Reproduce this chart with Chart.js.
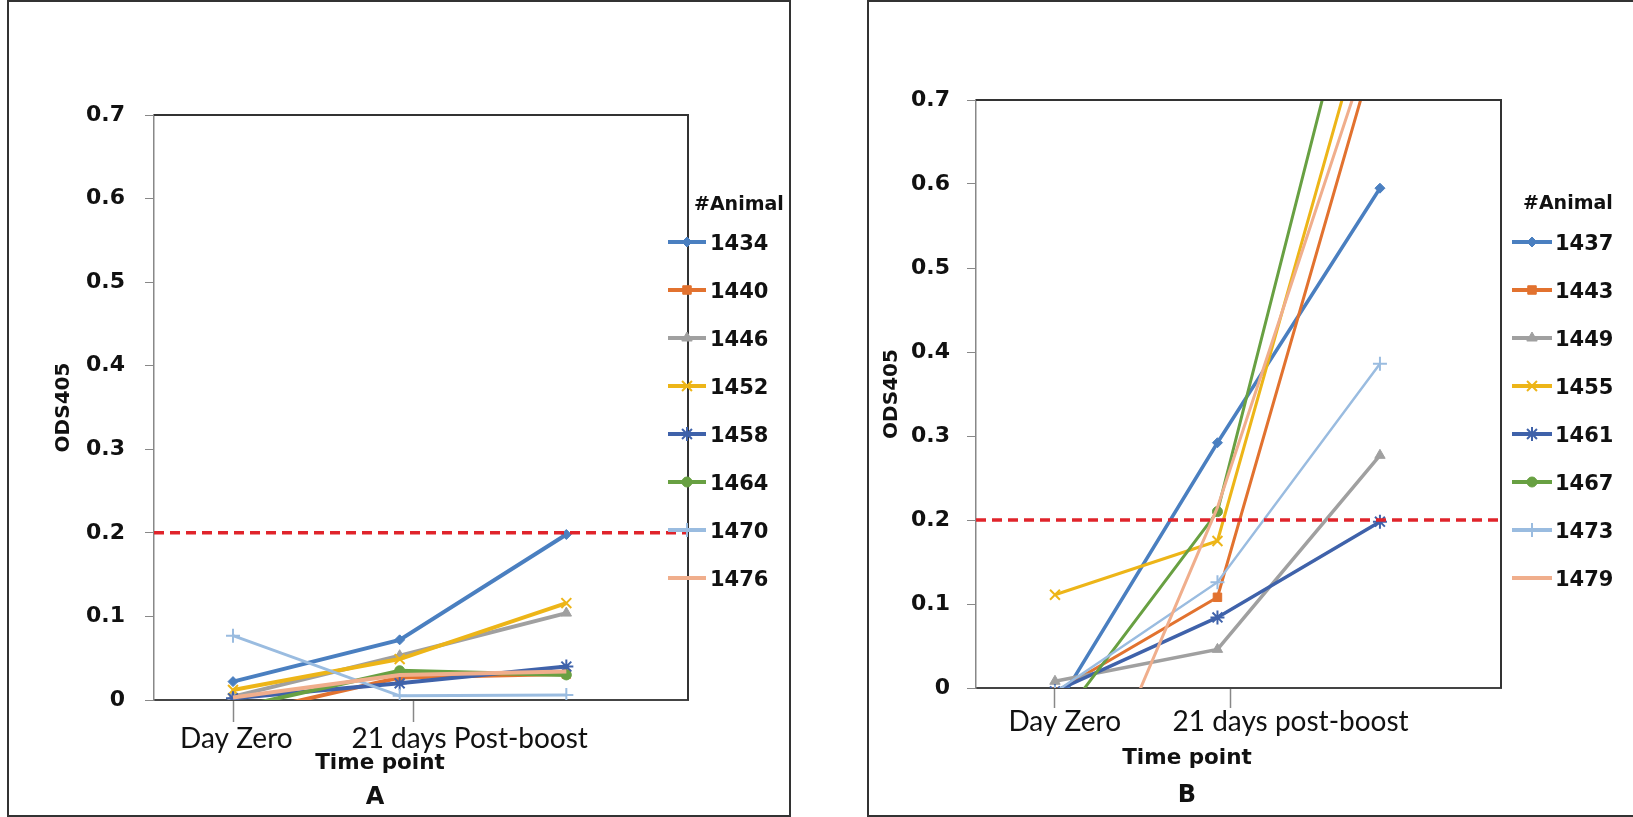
<!DOCTYPE html>
<html>
<head>
<meta charset="utf-8">
<script src="https://cdn.jsdelivr.net/npm/chart.js@4.4.1/dist/chart.umd.min.js"></script>
<style>
  html, body { margin: 0; padding: 0; background: #fff; overflow: hidden; width: 1633px; height: 817px; }
  .panel { position: absolute; top: 0; height: 817px; box-sizing: border-box; border: 2px solid #333; background: #fff; }
  #panelA { left: 7px; width: 784px; }
  #panelB { left: 867px; width: 780px; }
  .panel canvas { position: absolute; left: 0; top: 0; }
</style>
</head>
<body>
<div class="panel" id="panelA"><canvas id="chartA" width="780" height="813"></canvas></div>
<div class="panel" id="panelB"><canvas id="chartB" width="770" height="813"></canvas></div>
<script>
// time points: Day Zero, 21 days, Post-boost
const timePoints = [0, 1, 2];
const cutoff = 0.2;

// panel A
const animalsA = ['1434', '1440', '1446', '1452', '1458', '1464', '1470', '1476'];
const od1434 = [0.022, 0.072, 0.198];
const od1440 = [-0.019, 0.027, 0.031];
const od1446 = [0.004, 0.053, 0.104];
const od1452 = [0.012, 0.049, 0.116];
const od1458 = [0.002, 0.020, 0.040];
const od1464 = [-0.010, 0.035, 0.030];
const od1470 = [0.077, 0.005, 0.006];
const od1476 = [0.003, 0.030, 0.034];

// panel B
const animalsB = ['1437', '1443', '1449', '1455', '1461', '1467', '1473', '1479'];
const od1437 = [-0.025, 0.292, 0.595];
const od1443 = [-0.005, 0.108, 0.78];
const od1449 = [0.008, 0.046, 0.277];
const od1455 = [0.111, 0.175, 0.86];
const od1461 = [-0.004, 0.084, 0.198];
const od1467 = [-0.047, 0.210, 0.97];
const od1473 = [-0.005, 0.126, 0.386];
const od1479 = [-0.24, 0.215, 0.80];

// x axis tick labels (Excel put them a bit off the points)
const xTickValuesA = [0, 0.02, 1.08, 1.42];
const xTickTextA = ['', 'Day Zero', '', '21 days Post-boost'];
const xTickValuesB = [0, 0.06, 1.08, 1.45];
const xTickTextB = ['', 'Day Zero', '', '21 days post-boost'];

const colors = ['#4A7FC0', '#E2722F', '#A0A0A0', '#EDB518', '#3F62AA', '#68A042', '#9ABCE0', '#F0AE8C'];
const markers = ['rectRot', 'rect', 'triangle', 'crossRot', 'star', 'circle', 'cross', null];
const markerSizes = [5, 6, 6, 7, 7, 5, 7, 0];

Chart.defaults.font.family = '"DejaVu Sans"';
Chart.defaults.color = '#111';

function makeDatasets(names, series, widths, xMin, xMax) {
    const sets = names.map((name, i) => ({
        label: name,
        data: timePoints.map((t, j) => ({ x: t, y: series[i][j] })),
        borderColor: colors[i],
        backgroundColor: colors[i],
        borderWidth: widths[i],
        pointStyle: markers[i] || 'circle',
        pointRadius: markers[i] ? markerSizes[i] : 0,
        pointBorderWidth: ['crossRot', 'star', 'cross'].includes(markers[i]) ? 2 : 1,
        order: names.length - i,
        tension: 0
    }));
    sets.push({
        label: 'cutoff',
        isCutoff: true,
        data: [{ x: xMin, y: cutoff }, { x: xMax, y: cutoff }],
        borderColor: '#E0242B',
        borderDash: [10, 6],
        borderWidth: 3.5,
        pointRadius: 0,
        order: -1
    });
    return sets;
}

// cap-centred text: baseline sits ~0.365em below the visual centre for DejaVu
function centredText(ctx, text, x, y, size) {
    ctx.fillText(text, x, y + size * 0.365);
}

const panelDecor = {
    id: 'panelDecor',
    afterDraw(chart, args, o) {
        const { ctx, chartArea: a } = chart;
        ctx.save();
        // top + right frame of the plot area
        ctx.strokeStyle = '#333';
        ctx.lineWidth = 2;
        ctx.beginPath();
        ctx.moveTo(a.left, a.top);
        ctx.lineTo(a.right, a.top);
        ctx.lineTo(a.right, a.bottom);
        ctx.stroke();

        // legend
        ctx.textBaseline = 'alphabetic';
        ctx.textAlign = 'left';
        ctx.fillStyle = '#111';
        ctx.font = 'bold 19px "DejaVu Sans"';
        centredText(ctx, '#Animal', o.headX, o.headY, 19);
        ctx.font = 'bold 21px "DejaVu Sans"';
        chart.data.datasets.filter(d => !d.isCutoff).forEach((ds, i) => {
            const y = o.rowY + i * o.rowStep;
            ctx.strokeStyle = ds.borderColor;
            ctx.lineWidth = 4;
            ctx.beginPath();
            ctx.moveTo(o.lineX, y);
            ctx.lineTo(o.lineX + o.lineW, y);
            ctx.stroke();
            if (ds.pointRadius > 0) {
                ctx.fillStyle = ds.backgroundColor;
                ctx.lineWidth = ds.pointBorderWidth;
                Chart.helpers.drawPoint(ctx, {
                    pointStyle: ds.pointStyle, radius: ds.pointRadius, rotation: 0, borderWidth: ds.pointBorderWidth
                }, o.lineX + o.lineW / 2, y);
            }
            ctx.fillStyle = '#111';
            centredText(ctx, ds.label, o.textX, y, 21);
        });

        // captions under the axis
        ctx.textAlign = 'center';
        ctx.font = 'bold 21.5px "DejaVu Sans"';
        centredText(ctx, 'Time point', o.capX, o.capY, 21.5);
        ctx.font = 'bold 24px "DejaVu Sans"';
        centredText(ctx, o.panel, o.panelX, o.panelY, 24);
        ctx.restore();
    }
};

function makeChart(id, cfg) {
    return new Chart(document.getElementById(id), {
        type: 'line',
        data: { datasets: makeDatasets(cfg.names, cfg.series, cfg.widths, cfg.xMin, cfg.xMax) },
        plugins: [panelDecor],
        options: {
            responsive: false,
            animation: false,
            layout: { padding: { top: cfg.padTop, right: cfg.padRight, bottom: 0, left: 0 } },
            plugins: {
                legend: { display: false },
                tooltip: { enabled: false },
                panelDecor: cfg.decor
            },
            scales: {
                x: {
                    type: 'linear',
                    min: cfg.xMin,
                    max: cfg.xMax,
                    afterBuildTicks: s => { s.ticks = cfg.tickValues.map(v => ({ value: v })); },
                    afterFit: s => { s.height = cfg.xHeight; },
                    ticks: {
                        autoSkip: false, maxRotation: 0, minRotation: 0,
                        padding: cfg.xPad,
                        color: '#111',
                        font: { family: 'Lato', size: 28 },
                        callback: (v, i) => cfg.tickText[i]
                    },
                    grid: {
                        drawOnChartArea: false,
                        tickLength: cfg.xTickLen,
                        tickWidth: 1.5,
                        tickColor: c => cfg.tickText[c.index] ? 'rgba(0,0,0,0)' : '#888'
                    },
                    border: { color: '#444', width: 2 }
                },
                y: {
                    min: 0,
                    max: 0.7,
                    afterFit: s => { s.width = cfg.yWidth; },
                    ticks: {
                        stepSize: 0.1,
                        padding: cfg.yPad,
                        color: '#111',
                        font: { family: 'DejaVu Sans', weight: 'bold', size: 22 }
                    },
                    grid: { drawOnChartArea: false, tickLength: 9, tickColor: '#888' },
                    border: { color: '#888', width: 1.5 },
                    title: {
                        display: true,
                        text: 'ODS405',
                        color: '#111',
                        padding: { top: cfg.yTitlePad, bottom: 0 },
                        font: { family: 'DejaVu Sans', weight: 'bold', size: 20 }
                    }
                }
            }
        }
    });
}

makeChart('chartA', {
    names: animalsA,
    series: [od1434, od1440, od1446, od1452, od1458, od1464, od1470, od1476],
    widths: [4, 4, 4, 4, 4, 4, 3, 4],
    xMin: -0.474, xMax: 2.73,
    tickValues: xTickValuesA, tickText: xTickTextA,
    padTop: 113, padRight: 101,
    xHeight: 115, xPad: 0, xTickLen: 22,
    yWidth: 145, yPad: 20, yTitlePad: 43,
    decor: {
        panel: 'A',
        headX: 685, headY: 201,
        lineX: 659, lineW: 38, textX: 701,
        rowY: 240, rowStep: 48,
        capX: 371, capY: 759, panelX: 366, panelY: 793
    }
});

makeChart('chartB', {
    names: animalsB,
    series: [od1437, od1443, od1449, od1455, od1461, od1467, od1473, od1479],
    widths: [3.5, 3, 3.5, 3, 3.5, 3, 2.5, 3],
    xMin: -0.486, xMax: 2.745,
    tickValues: xTickValuesB, tickText: xTickTextB,
    padTop: 98, padRight: 138,
    xHeight: 127, xPad: -3, xTickLen: 20,
    yWidth: 107, yPad: 17, yTitlePad: 11,
    decor: {
        panel: 'B',
        headX: 654, headY: 200,
        lineX: 643, lineW: 40, textX: 686,
        rowY: 240, rowStep: 48,
        capX: 318, capY: 754, panelX: 318, panelY: 791
    }
});
</script>
</body>
</html>
